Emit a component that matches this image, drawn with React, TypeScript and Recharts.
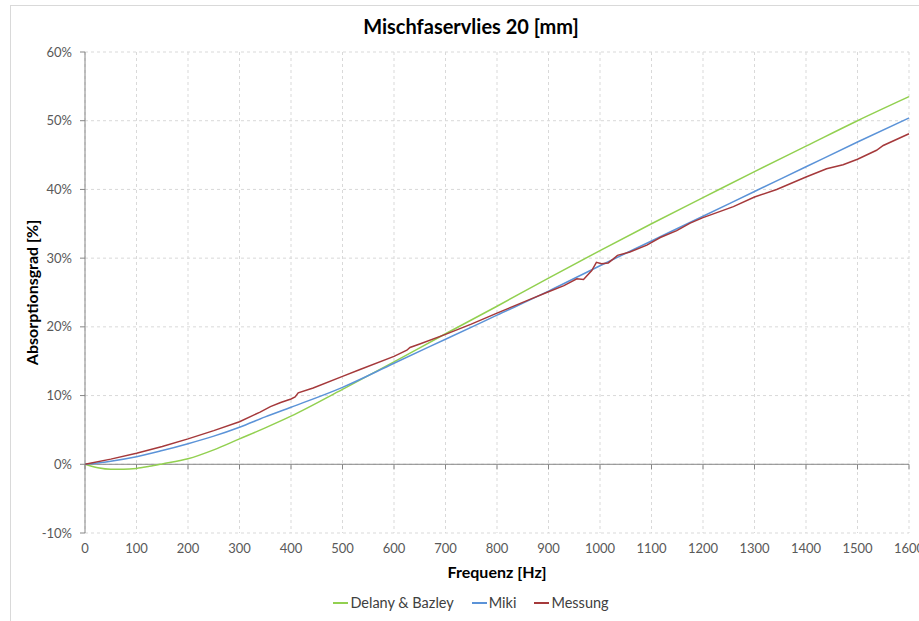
import {
  LineChart,
  Line,
  XAxis,
  YAxis,
  CartesianGrid,
  ReferenceLine,
  Legend,
} from "recharts";

const chartTitle = "Mischfaservlies 20 [mm]";
const xLabel = "Frequenz [Hz]";
const yLabel = "Absorptionsgrad [%]";

const xTicks = [0, 100, 200, 300, 400, 500, 600, 700, 800, 900, 1000, 1100, 1200, 1300, 1400, 1500, 1600];
const yTicks = [-10, 0, 10, 20, 30, 40, 50, 60];

// Delany & Bazley
const freqDB = [0, 25, 50, 75, 100, 125, 150, 200, 250, 300, 350, 400, 500, 600, 700, 800, 900, 1000, 1100, 1200, 1300, 1400, 1500, 1600];
const valDB = [0, -0.5, -0.72, -0.72, -0.6, -0.3, 0.05, 0.8, 2.1, 3.7, 5.3, 7.0, 10.9, 14.9, 19.0, 23.0, 27.1, 31.1, 35.0, 38.8, 42.6, 46.3, 50.0, 53.5];

// Miki
const freqMiki = [0, 50, 100, 150, 200, 250, 300, 350, 400, 500, 600, 700, 800, 900, 1000, 1100, 1200, 1300, 1400, 1500, 1600];
const valMiki = [0, 0.45, 1.1, 2.0, 3.0, 4.1, 5.4, 6.9, 8.3, 11.2, 14.7, 18.2, 21.7, 25.2, 28.9, 32.5, 36.1, 39.7, 43.3, 46.9, 50.4];

// Messung
const freqMess = [0, 50, 100, 150, 200, 250, 300, 340, 360, 380, 400, 408, 414, 443, 500, 534, 600, 625, 631, 650, 700, 750, 800, 864, 900, 930, 955, 968, 984, 993, 1003, 1016, 1026, 1034, 1058, 1091, 1117, 1149, 1175, 1200, 1259, 1300, 1343, 1400, 1440, 1472, 1500, 1537, 1550, 1600];
const valMess = [0, 0.75, 1.6, 2.6, 3.7, 4.9, 6.2, 7.6, 8.4, 9.0, 9.5, 9.8, 10.4, 11.1, 12.8, 13.8, 15.7, 16.6, 17.0, 17.5, 18.9, 20.4, 22.0, 24.0, 25.1, 26.0, 27.0, 26.9, 28.2, 29.4, 29.2, 29.3, 29.9, 30.4, 30.9, 31.9, 33.0, 34.0, 35.1, 35.9, 37.5, 38.9, 40.0, 41.8, 43.0, 43.6, 44.4, 45.7, 46.4, 48.1];

const toPoints = (freq: number[], vals: number[]) =>
  freq.map((f, i) => ({ f, v: vals[i] }));

const series = [
  { name: "Delany & Bazley", color: "#92d050", data: toPoints(freqDB, valDB), type: "monotone" as const },
  { name: "Miki", color: "#5b93d8", data: toPoints(freqMiki, valMiki), type: "monotone" as const },
  { name: "Messung", color: "#a5393b", data: toPoints(freqMess, valMess), type: "linear" as const },
];

const FONT = "Lato, 'Open Sans', sans-serif";
const W = 942;
const H = 621;

export default function App() {
  return (
    <div
      style={{
        position: "absolute",
        left: 0,
        top: 0,
        width: 919,
        height: H,
        overflow: "hidden",
        background: "#fff",
        fontFamily: FONT,
      }}
    >
      <div
        style={{
          position: "absolute",
          left: 10,
          top: 5,
          width: 1000,
          height: 800,
          border: "1px solid #d9d9d9",
        }}
      />
      <div
        style={{
          position: "absolute",
          left: 0,
          top: 14,
          width: W,
          textAlign: "center",
          fontWeight: 700,
          fontSize: 20,
          color: "#000",
        }}
      >
        {chartTitle}
      </div>
      <div style={{ position: "absolute", left: 0, top: 0 }}>
        <LineChart
          width={W}
          height={H}
          margin={{ top: 52, right: 33, bottom: 0, left: 10 }}
        >
          <CartesianGrid stroke="#d9d9d9" strokeDasharray="3 3" />
          <XAxis
            dataKey="f"
            type="number"
            domain={[0, 1600]}
            ticks={xTicks}
            interval={0}
            allowDuplicatedCategory={false}
            axisLine={false}
            tickLine={false}
            tickSize={0}
            tickMargin={11}
            height={52}
            tick={{ fill: "#595959", fontSize: 13, fontFamily: FONT }}
            label={{
              value: xLabel,
              position: "insideBottom",
              offset: 7,
              style: { fill: "#000", fontWeight: 700, fontSize: 16, fontFamily: FONT },
            }}
          />
          <YAxis
            type="number"
            domain={[-10, 60]}
            ticks={yTicks}
            interval={0}
            width={75}
            axisLine={{ stroke: "#868686" }}
            tickLine={{ stroke: "#868686" }}
            tickSize={5}
            tickMargin={8}
            tickFormatter={(v: number) => `${v}%`}
            tick={{ fill: "#595959", fontSize: 13, fontFamily: FONT }}
            label={{
              value: yLabel,
              angle: -90,
              position: "insideLeft",
              offset: 22,
              style: { textAnchor: "middle", fill: "#000", fontWeight: 700, fontSize: 16, fontFamily: FONT },
            }}
          />
          <ReferenceLine y={0} stroke="#868686" strokeWidth={1} />
          {xTicks.map((t) => (
            <ReferenceLine
              key={t}
              segment={[
                { x: t, y: 0 },
                { x: t, y: -0.75 },
              ]}
              stroke="#868686"
            />
          ))}
          {series.map((s) => (
            <Line
              key={s.name}
              data={s.data}
              dataKey="v"
              name={s.name}
              type={s.type}
              stroke={s.color}
              strokeWidth={1.5}
              dot={false}
              activeDot={false}
              isAnimationActive={false}
            />
          ))}
          <Legend
            verticalAlign="bottom"
            height={36}
            wrapperStyle={{ left: 0, width: W }}
            content={() => (
              <div
                style={{
                  display: "flex",
                  justifyContent: "center",
                  gap: 18,
                  fontFamily: FONT,
                  fontSize: 14.5,
                  color: "#404040",
                  paddingTop: 9,
                }}
              >
                {series.map((s) => (
                  <span key={s.name} style={{ display: "flex", alignItems: "center" }}>
                    <span
                      style={{
                        display: "inline-block",
                        width: 15,
                        borderTop: `2px solid ${s.color}`,
                        marginRight: 2,
                      }}
                    />
                    {s.name}
                  </span>
                ))}
              </div>
            )}
          />
        </LineChart>
      </div>
    </div>
  );
}
